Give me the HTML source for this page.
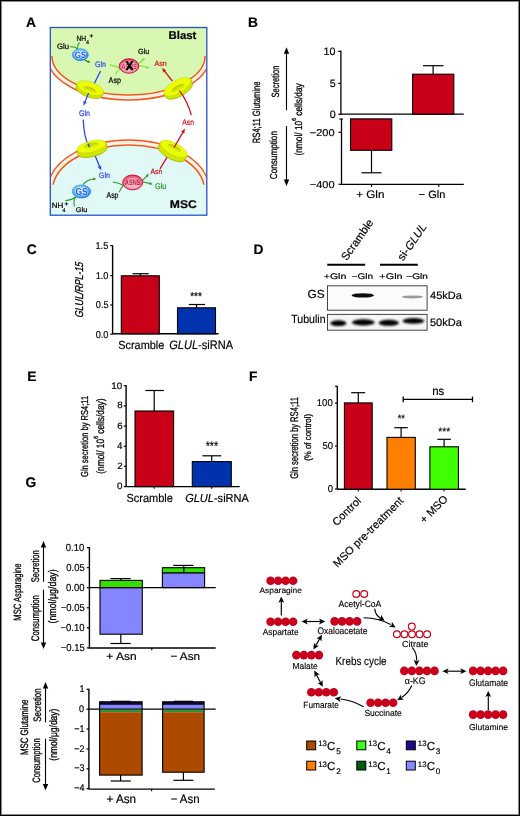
<!DOCTYPE html>
<html><head><meta charset="utf-8"><style>
html,body{margin:0;padding:0;background:#fff;}
body{width:520px;height:816px;overflow:hidden;}
svg{display:block;will-change:transform;font-family:"Liberation Sans", sans-serif;text-rendering:geometricPrecision;}
</style></head><body>
<svg width="520" height="816" viewBox="0 0 520 816">
<rect x="0.00" y="0.00" width="520.00" height="816.00" fill="#fff" />
<rect x="0.50" y="0.50" width="519.00" height="815.00" fill="none" stroke="#000" stroke-width="1" />
<rect x="1.50" y="1.50" width="517.00" height="813.00" fill="none" stroke="#888" stroke-width="1" />
<text x="26.08" y="26.60" font-size="13.800" font-weight="bold" stroke="#000" stroke-width="0.18">A</text>
<text x="247.99" y="26.60" font-size="13.800" font-weight="bold" stroke="#000" stroke-width="0.18">B</text>
<text x="26.72" y="253.80" font-size="13.800" font-weight="bold" stroke="#000" stroke-width="0.18">C</text>
<text x="253.39" y="253.80" font-size="13.800" font-weight="bold" stroke="#000" stroke-width="0.18">D</text>
<text x="27.34" y="380.65" font-size="13.800" font-weight="bold" stroke="#000" stroke-width="0.18">E</text>
<text x="248.89" y="380.65" font-size="13.800" font-weight="bold" stroke="#000" stroke-width="0.18">F</text>
<text x="25.62" y="487.40" font-size="13.800" font-weight="bold" stroke="#000" stroke-width="0.18">G</text>
<defs>
<clipPath id="cpA"><rect x="50.9" y="28.1" width="155.3" height="186.5"/></clipPath>
<linearGradient id="gHole" x1="0" y1="0" x2="0" y2="1"><stop offset="0" stop-color="#b2c600"/><stop offset="0.5" stop-color="#cfe200"/><stop offset="1" stop-color="#e8fa02"/></linearGradient>
<radialGradient id="gTor" cx="0.5" cy="0.5" r="0.55">
<stop offset="0" stop-color="#e8f800"/><stop offset="0.7" stop-color="#eefe10"/><stop offset="1" stop-color="#e2f400"/></radialGradient>
<radialGradient id="gGS" cx="0.45" cy="0.42" r="0.6">
<stop offset="0" stop-color="#d8f8ff"/><stop offset="0.45" stop-color="#8ad8fa"/><stop offset="0.8" stop-color="#3c9cf0"/><stop offset="1" stop-color="#1e70e0"/></radialGradient>
<radialGradient id="gAS" cx="0.5" cy="0.6" r="0.62">
<stop offset="0" stop-color="#f4c8d8"/><stop offset="0.55" stop-color="#eca2ba"/><stop offset="0.82" stop-color="#e0587a"/><stop offset="1" stop-color="#d81234"/></radialGradient>
</defs>
<g clip-path="url(#cpA)">
<rect x="48.00" y="25.00" width="162.00" height="32.00" fill="#d8f7b2" />
<ellipse cx="128.5" cy="56" rx="79.5" ry="42" fill="#d8f7b2"/>
<path d="M49.5,56 A79,41.5 0 0 0 207.5,56" stroke="#f25a18" stroke-width="6.4" fill="none" stroke-linecap="butt"/>
<path d="M49.5,56 A79,41.5 0 0 0 207.5,56" stroke="#fdf1ec" stroke-width="3.4" fill="none" stroke-linecap="butt"/>
<rect x="48.00" y="190.50" width="162.00" height="27.00" fill="#e0f8f6" />
<ellipse cx="128.5" cy="190.5" rx="79" ry="48.5" fill="#e0f8f6"/>
<path d="M50.72,184 A78.5,48 0 0 1 206.28,184" stroke="#f25a18" stroke-width="6.4" fill="none" stroke-linecap="butt"/>
<path d="M50.72,184 A78.5,48 0 0 1 206.28,184" stroke="#fdf1ec" stroke-width="3.4" fill="none" stroke-linecap="butt"/>
</g>
<rect x="50.30" y="27.50" width="156.50" height="187.70" fill="none" stroke="#2452c8" stroke-width="1.3" />
<text x="168.49" y="38.75" font-size="11.166" font-weight="bold" textLength="27.87" lengthAdjust="spacingAndGlyphs" stroke="#000" stroke-width="0.18">Blast</text>
<text x="169.84" y="208.45" font-size="11.236" font-weight="bold" textLength="26.99" lengthAdjust="spacingAndGlyphs" stroke="#000" stroke-width="0.18">MSC</text>
<line x1="100.5" y1="71.0" x2="93.5" y2="85.3" stroke="#2c48f2" stroke-width="1.3" />
<line x1="167.5" y1="156.3" x2="160.0" y2="168.8" stroke="#d0141e" stroke-width="1.3" />
<path d="M83.3,119.6 Q83.5,136 89.2,147.5" stroke="#2c48f2" stroke-width="1.3" fill="none" />
<line x1="91.60" y1="147.00" x2="100.01" y2="167.68" stroke="#2c48f2" stroke-width="1.3"/>
<polygon points="101.20,170.60 97.84,167.11 101.17,165.75" fill="#2c48f2"/>
<g transform="translate(89.8 89.6) rotate(20)"><path d="M-14.0,-1.6 L-14.0,1.6 A14.0,6.0 0 0 0 14.0,1.6 L14.0,-1.6 Z" fill="#d0e600" stroke="#92ac00" stroke-width="0.6"/><ellipse cx="0" cy="-1.6" rx="14.0" ry="6.0" fill="#ebfd06" stroke="#b4ca00" stroke-width="0.4"/><ellipse cx="0.0" cy="0.20" rx="7.00" ry="2.64" fill="url(#gHole)"/></g>
<g transform="translate(178.2 88.4) rotate(-30)"><path d="M-15.2,-1.8 L-15.2,1.8 A15.2,6.4 0 0 0 15.2,1.8 L15.2,-1.8 Z" fill="#d0e600" stroke="#92ac00" stroke-width="0.6"/><ellipse cx="0" cy="-1.8" rx="15.2" ry="6.4" fill="#ebfd06" stroke="#b4ca00" stroke-width="0.4"/><ellipse cx="0.0" cy="-0.20" rx="7.60" ry="2.82" fill="url(#gHole)"/></g>
<g transform="translate(92.0 148.8) rotate(-14)"><path d="M-15.0,-2.3 L-15.0,2.3 A15.0,5.6 0 0 0 15.0,2.3 L15.0,-2.3 Z" fill="#d0e600" stroke="#92ac00" stroke-width="0.6"/><ellipse cx="0" cy="-2.3" rx="15.0" ry="5.6" fill="#ebfd06" stroke="#b4ca00" stroke-width="0.4"/><ellipse cx="0.0" cy="-3.42" rx="7.50" ry="2.46" fill="url(#gHole)"/></g>
<g transform="translate(172.7 151.0) rotate(28)"><path d="M-15.0,-2.3 L-15.0,2.3 A15.0,6.0 0 0 0 15.0,2.3 L15.0,-2.3 Z" fill="#d0e600" stroke="#92ac00" stroke-width="0.6"/><ellipse cx="0" cy="-2.3" rx="15.0" ry="6.0" fill="#ebfd06" stroke="#b4ca00" stroke-width="0.4"/><ellipse cx="0.0" cy="-3.50" rx="7.50" ry="2.64" fill="url(#gHole)"/></g>
<line x1="88.60" y1="93.00" x2="84.59" y2="102.88" stroke="#2c48f2" stroke-width="1.3"/>
<polygon points="83.40,105.80 83.43,100.95 86.76,102.31" fill="#2c48f2"/>
<path d="M179.4,90.6 Q187.5,101 191.3,115.2" stroke="#d0141e" stroke-width="1.3" fill="none" />
<path d="M88.0,143.5 Q88.6,145.5 89.6,147.2" stroke="#2c48f2" stroke-width="1.3" fill="none" />
<line x1="172.30" y1="81.00" x2="163.94" y2="70.28" stroke="#d0141e" stroke-width="1.3"/>
<polygon points="162.00,67.80 166.19,70.24 163.35,72.46" fill="#d0141e"/>
<line x1="174.00" y1="147.60" x2="183.42" y2="131.33" stroke="#d0141e" stroke-width="1.3"/>
<polygon points="185.00,128.60 184.30,133.40 181.19,131.59" fill="#d0141e"/>
<path d="M69.8,46.8 Q75.5,46.3 77.6,49.2" stroke="#2a9a2a" stroke-width="1.1" fill="none" />
<path d="M79.4,42.4 Q77.0,45.5 77.6,49.2" stroke="#2a9a2a" stroke-width="1.1" fill="none" />
<path d="M84.5,59.5 Q86.5,61.5 88.8,61.9" stroke="#2a9a2a" stroke-width="1.1" fill="none" />
<polygon points="90.60,62.20 87.35,63.02 87.99,60.09" fill="#2a9a2a"/>
<ellipse cx="80.3" cy="54.7" rx="8" ry="6" fill="url(#gGS)" stroke="#2a7ee8" stroke-width="0.6"/>
<text x="74.65" y="57.90" font-size="9.322" font-weight="bold" fill="#2a56f0" textLength="11.46" lengthAdjust="spacingAndGlyphs" stroke="#ffffff" stroke-width="0.7" paint-order="stroke">GS</text>
<path d="M83.0,184.6 Q87.5,179.3 94.0,179.0" stroke="#2a9a2a" stroke-width="1.1" fill="none" />
<polygon points="96.30,178.90 93.37,180.54 93.23,177.54" fill="#2a9a2a"/>
<path d="M65.4,200.6 Q72,200 75.6,197.0" stroke="#2a9a2a" stroke-width="1.1" fill="none" />
<path d="M74.6,206.6 Q72.8,201 75.6,197.0" stroke="#2a9a2a" stroke-width="1.1" fill="none" />
<ellipse cx="81.5" cy="191.5" rx="9.2" ry="6.6" fill="url(#gGS)" stroke="#2a7ee8" stroke-width="0.6"/>
<text x="75.43" y="194.89" font-size="10.157" font-weight="bold" fill="#2a56f0" textLength="12.29" lengthAdjust="spacingAndGlyphs" stroke="#ffffff" stroke-width="0.7" paint-order="stroke">GS</text>
<path d="M109.7,64.9 Q116,66 120.5,68.6" stroke="#7ee040" stroke-width="1.1" fill="none" />
<path d="M115.4,74.4 Q117.5,70.5 120.5,68.6" stroke="#7ee040" stroke-width="1.1" fill="none" />
<line x1="138.5" y1="64.0" x2="143.2" y2="59.6" stroke="#7ee040" stroke-width="1.1" />
<polygon points="145.00,58.00 143.75,61.11 141.76,58.87" fill="#7ee040"/>
<line x1="138.8" y1="65.5" x2="147.2" y2="67.3" stroke="#7ee040" stroke-width="1.1" />
<polygon points="149.60,67.90 146.35,68.74 146.98,65.80" fill="#7ee040"/>
<ellipse cx="129.0" cy="66.0" rx="9.8" ry="7.2" fill="url(#gAS)" stroke="#d41030" stroke-width="1.0"/>
<text x="121.41" y="68.53" font-size="7.374" font-weight="bold" fill="#d42848" textLength="15.23" lengthAdjust="spacingAndGlyphs" stroke="#f8e0e8" stroke-width="0.2" paint-order="stroke">ASNS</text>
<text x="125.70" y="70.45" font-size="12.089" font-weight="bold" textLength="7.35" lengthAdjust="spacingAndGlyphs" stroke="#000" stroke-width="0.7">X</text>
<path d="M112.8,182.0 Q119,183 123.6,185.4" stroke="#2a9a2a" stroke-width="1.1" fill="none" />
<path d="M119.2,192.2 Q121,188 123.6,185.4" stroke="#2a9a2a" stroke-width="1.1" fill="none" />
<line x1="142.2" y1="180.6" x2="147.0" y2="175.9" stroke="#2a9a2a" stroke-width="1.1" />
<polygon points="148.90,174.00 147.84,177.18 145.72,175.06" fill="#2a9a2a"/>
<line x1="142.5" y1="181.8" x2="150.2" y2="183.6" stroke="#2a9a2a" stroke-width="1.1" />
<polygon points="152.70,184.30 149.43,185.03 150.15,182.12" fill="#2a9a2a"/>
<ellipse cx="132.7" cy="182.4" rx="10" ry="7.4" fill="url(#gAS)" stroke="#d41030" stroke-width="1.0"/>
<text x="124.81" y="184.93" font-size="7.930" font-weight="bold" fill="#c8102c" textLength="15.84" lengthAdjust="spacingAndGlyphs" stroke="#f8e0e8" stroke-width="0.25" paint-order="stroke">ASNS</text>
<text x="76.38" y="40.75" font-size="7.538" textLength="9.67" lengthAdjust="spacingAndGlyphs" stroke="#000" stroke-width="0.22">NH</text>
<text x="85.90" y="43.60" font-size="5.400" stroke="#000" stroke-width="0.18">4</text>
<text x="89.60" y="38.30" font-size="6.400" font-weight="bold" stroke="#000" stroke-width="0.18">+</text>
<text x="57.04" y="48.95" font-size="7.898" textLength="12.10" lengthAdjust="spacingAndGlyphs" stroke="#000" stroke-width="0.22">Glu</text>
<text x="95.07" y="66.75" font-size="8.034" fill="#2c48f2" textLength="10.82" lengthAdjust="spacingAndGlyphs" stroke="#2c48f2" stroke-width="0.22">Gln</text>
<text x="137.96" y="53.75" font-size="7.489" textLength="11.35" lengthAdjust="spacingAndGlyphs" stroke="#000" stroke-width="0.22">Glu</text>
<text x="154.60" y="65.65" font-size="7.680" fill="#d0141e" textLength="12.09" lengthAdjust="spacingAndGlyphs" stroke="#d0141e" stroke-width="0.22">Asn</text>
<text x="108.60" y="82.55" font-size="8.249" textLength="12.39" lengthAdjust="spacingAndGlyphs" stroke="#000" stroke-width="0.22">Asp</text>
<text x="78.97" y="115.55" font-size="8.170" fill="#2c48f2" textLength="10.92" lengthAdjust="spacingAndGlyphs" stroke="#2c48f2" stroke-width="0.22">Gln</text>
<text x="182.20" y="125.25" font-size="8.178" fill="#d0141e" textLength="11.89" lengthAdjust="spacingAndGlyphs" stroke="#d0141e" stroke-width="0.22">Asn</text>
<text x="98.86" y="178.25" font-size="7.898" fill="#2c48f2" textLength="11.14" lengthAdjust="spacingAndGlyphs" stroke="#2c48f2" stroke-width="0.22">Gln</text>
<text x="150.50" y="173.85" font-size="7.680" fill="#d0141e" textLength="11.89" lengthAdjust="spacingAndGlyphs" stroke="#d0141e" stroke-width="0.22">Asn</text>
<text x="155.06" y="188.85" font-size="8.306" fill="#2a9a2a" textLength="11.35" lengthAdjust="spacingAndGlyphs" stroke="#2a9a2a" stroke-width="0.22">Glu</text>
<text x="106.50" y="197.55" font-size="8.391" textLength="11.98" lengthAdjust="spacingAndGlyphs" stroke="#000" stroke-width="0.22">Asp</text>
<text x="51.67" y="207.95" font-size="7.538" textLength="11.58" lengthAdjust="spacingAndGlyphs" stroke="#000" stroke-width="0.22">NH</text>
<text x="62.50" y="211.70" font-size="5.400" stroke="#000" stroke-width="0.18">4</text>
<text x="64.60" y="205.90" font-size="6.400" font-weight="bold" stroke="#000" stroke-width="0.18">+</text>
<text x="75.85" y="212.45" font-size="6.809" textLength="11.46" lengthAdjust="spacingAndGlyphs" stroke="#000" stroke-width="0.22">Glu</text>
<line x1="286.5" y1="53.2" x2="286.5" y2="110.2" stroke="#000" stroke-width="1.1" />
<polygon points="286.5,47.2 283.8,53.7 289.2,53.7" fill="#000"/>
<line x1="286.5" y1="126.1" x2="286.5" y2="180.0" stroke="#000" stroke-width="1.1" />
<polygon points="286.5,186.0 283.8,179.5 289.2,179.5" fill="#000"/>
<text transform="translate(260.05 143.20) rotate(-90)" font-size="10.485" textLength="61.70" lengthAdjust="spacingAndGlyphs" stroke="#000" stroke-width="0.3">RS4;11 Glutamine</text>
<text transform="translate(278.85 97.43) rotate(-90)" font-size="10.485" textLength="31.76" lengthAdjust="spacingAndGlyphs" stroke="#000" stroke-width="0.3">Secretion</text>
<text transform="translate(276.75 179.28) rotate(-90)" font-size="10.077" textLength="48.24" lengthAdjust="spacingAndGlyphs" stroke="#000" stroke-width="0.3">Consumption</text>
<g transform="translate(302.15 155.59) rotate(-90)" font-size="10.213" stroke="#000" stroke-width="0.3" style="white-space:pre"><text x="0" y="0" textLength="34.85" lengthAdjust="spacingAndGlyphs">(nmol/ 10</text><text x="34.85" y="-5.92" font-size="5.923" textLength="2.70" lengthAdjust="spacingAndGlyphs">6</text><text x="37.54" y="0" textLength="34.85" lengthAdjust="spacingAndGlyphs"> cells/day</text></g>
<line x1="340.9" y1="50.6" x2="340.9" y2="114.8" stroke="#000" stroke-width="1.3" />
<line x1="338.2" y1="51.4" x2="340.9" y2="51.4" stroke="#000" stroke-width="1.2" />
<line x1="338.2" y1="83.4" x2="340.9" y2="83.4" stroke="#000" stroke-width="1.2" />
<line x1="338.2" y1="114.2" x2="340.9" y2="114.2" stroke="#000" stroke-width="1.2" />
<line x1="340.9" y1="114.2" x2="463.8" y2="114.2" stroke="#000" stroke-width="1.3" />
<line x1="341.5" y1="118.9" x2="341.5" y2="184.9" stroke="#000" stroke-width="1.3" />
<line x1="339.4" y1="119.0" x2="343.0" y2="119.0" stroke="#000" stroke-width="1.2" />
<line x1="338.5" y1="132.3" x2="341.5" y2="132.3" stroke="#000" stroke-width="1.2" />
<line x1="338.5" y1="184.3" x2="341.5" y2="184.3" stroke="#000" stroke-width="1.2" />
<line x1="341.5" y1="184.3" x2="463.8" y2="184.3" stroke="#000" stroke-width="1.3" />
<line x1="371.6" y1="184.3" x2="371.6" y2="186.9" stroke="#000" stroke-width="1.1" />
<line x1="438.8" y1="184.3" x2="438.8" y2="186.9" stroke="#000" stroke-width="1.1" />
<text x="323.43" y="54.98" font-size="10.713" textLength="11.94" lengthAdjust="spacingAndGlyphs" stroke="#000" stroke-width="0.18">10</text>
<text x="329.87" y="86.80" font-size="10.713" textLength="5.97" lengthAdjust="spacingAndGlyphs" stroke="#000" stroke-width="0.18">5</text>
<text x="329.70" y="117.60" font-size="10.713" textLength="5.97" lengthAdjust="spacingAndGlyphs" stroke="#000" stroke-width="0.18">0</text>
<text x="309.78" y="135.90" font-size="9.878" textLength="24.79" lengthAdjust="spacingAndGlyphs" stroke="#000" stroke-width="0.18">−200</text>
<text x="309.78" y="187.79" font-size="10.017" textLength="24.79" lengthAdjust="spacingAndGlyphs" stroke="#000" stroke-width="0.18">−400</text>
<rect x="350.50" y="118.90" width="41.30" height="31.40" fill="#c80018" stroke="#000" stroke-width="1.1" />
<line x1="371.5" y1="150.3" x2="371.5" y2="172.8" stroke="#000" stroke-width="1.2" />
<line x1="361.5" y1="172.8" x2="381.5" y2="172.8" stroke="#000" stroke-width="1.2" />
<rect x="412.60" y="74.20" width="41.20" height="40.00" fill="#c80018" stroke="#000" stroke-width="1.1" />
<line x1="433.1" y1="74.2" x2="433.1" y2="65.7" stroke="#000" stroke-width="1.2" />
<line x1="423.0" y1="65.7" x2="443.5" y2="65.7" stroke="#000" stroke-width="1.2" />
<text x="356.15" y="197.95" font-size="10.894" textLength="28.31" lengthAdjust="spacingAndGlyphs" stroke="#000" stroke-width="0.18">+ Gln</text>
<text x="418.58" y="198.25" font-size="10.621" textLength="26.84" lengthAdjust="spacingAndGlyphs" stroke="#000" stroke-width="0.18">− Gln</text>
<text transform="translate(83.25 318.01) rotate(-90) skewX(-12)" font-size="11.438" textLength="55.56" lengthAdjust="spacingAndGlyphs" stroke="#000" stroke-width="0.3">GLUL/RPL-15</text>
<line x1="112.6" y1="245.2" x2="112.6" y2="334.2" stroke="#000" stroke-width="1.4" />
<text x="95.53" y="249.09" font-size="10.017" textLength="12.74" lengthAdjust="spacingAndGlyphs" stroke="#000" stroke-width="0.18">1.5</text>
<text x="95.68" y="279.00" font-size="10.017" textLength="12.74" lengthAdjust="spacingAndGlyphs" stroke="#000" stroke-width="0.18">1.0</text>
<text x="95.83" y="308.40" font-size="10.017" textLength="12.74" lengthAdjust="spacingAndGlyphs" stroke="#000" stroke-width="0.18">0.5</text>
<text x="95.68" y="337.60" font-size="10.017" textLength="12.74" lengthAdjust="spacingAndGlyphs" stroke="#000" stroke-width="0.18">0.0</text>
<line x1="110.3" y1="245.6" x2="112.6" y2="245.6" stroke="#000" stroke-width="1.2" />
<line x1="110.3" y1="275.6" x2="112.6" y2="275.6" stroke="#000" stroke-width="1.2" />
<line x1="110.3" y1="305.0" x2="112.6" y2="305.0" stroke="#000" stroke-width="1.2" />
<line x1="110.3" y1="334.2" x2="112.6" y2="334.2" stroke="#000" stroke-width="1.2" />
<line x1="112.6" y1="333.8" x2="218.6" y2="333.8" stroke="#000" stroke-width="1.4" />
<rect x="121.30" y="275.80" width="38.00" height="58.00" fill="#c80018" stroke="#000" stroke-width="1.1" />
<line x1="140.3" y1="275.8" x2="140.3" y2="273.7" stroke="#000" stroke-width="1.2" />
<line x1="132.5" y1="273.7" x2="148.7" y2="273.7" stroke="#000" stroke-width="1.2" />
<rect x="177.50" y="307.80" width="38.00" height="26.00" fill="#0032ae" stroke="#000" stroke-width="1.1" />
<line x1="196.5" y1="307.8" x2="196.5" y2="304.5" stroke="#000" stroke-width="1.2" />
<line x1="188.8" y1="304.5" x2="205.0" y2="304.5" stroke="#000" stroke-width="1.2" />
<text x="190.14" y="300.22" font-size="11.333" textLength="11.70" lengthAdjust="spacingAndGlyphs" stroke="#000" stroke-width="0.18">***</text>
<text x="118.26" y="348.55" font-size="11.711" textLength="46.08" lengthAdjust="spacingAndGlyphs" stroke="#000" stroke-width="0.18">Scramble</text>
<text x="169.28" y="348.55" font-size="12.231" stroke="#000" stroke-width="0.18"><tspan font-style="italic" textLength="28.82" lengthAdjust="spacingAndGlyphs">GLUL</tspan><tspan textLength="34.94" lengthAdjust="spacingAndGlyphs">-siRNA</tspan></text>
<text transform="translate(346.80 261.30) rotate(-55)" font-size="11.200" stroke="#000" stroke-width="0.18">Scramble</text>
<g transform="translate(403.0 261.5) rotate(-55)" font-size="11.4" stroke="#000" stroke-width="0.18"><text x="0" y="0">si-</text><text transform="translate(12.0 0) skewX(-12)" x="0" y="0">GLUL</text></g>
<line x1="327.3" y1="264.8" x2="365.2" y2="264.8" stroke="#000" stroke-width="2.0" />
<line x1="380.0" y1="264.8" x2="417.8" y2="264.8" stroke="#000" stroke-width="2.0" />
<text x="323.81" y="278.65" font-size="8.170" textLength="22.48" lengthAdjust="spacingAndGlyphs" stroke="#000" stroke-width="0.18">+Gln</text>
<text x="351.53" y="278.65" font-size="8.170" textLength="21.64" lengthAdjust="spacingAndGlyphs" stroke="#000" stroke-width="0.18">−Gln</text>
<text x="379.39" y="278.65" font-size="8.170" textLength="23.22" lengthAdjust="spacingAndGlyphs" stroke="#000" stroke-width="0.18">+Gln</text>
<text x="406.33" y="278.65" font-size="8.170" textLength="21.64" lengthAdjust="spacingAndGlyphs" stroke="#000" stroke-width="0.18">−Gln</text>
<defs><filter id="blur1" x="-20%" y="-50%" width="140%" height="200%"><feGaussianBlur stdDeviation="0.7"/></filter><filter id="blur2" x="-20%" y="-50%" width="140%" height="200%"><feGaussianBlur stdDeviation="0.9"/></filter></defs>
<rect x="327.50" y="285.80" width="99.60" height="24.40" fill="#fbfbfb" stroke="#444" stroke-width="1.0" />
<rect x="327.50" y="314.40" width="99.60" height="15.80" fill="#f6f6f6" stroke="#444" stroke-width="1.0" />
<ellipse cx="362.8" cy="295.4" rx="11.2" ry="2.2" fill="#111" filter="url(#blur1)"/>
<ellipse cx="412.5" cy="296.9" rx="10.5" ry="1.5" fill="#9a9a9a" filter="url(#blur1)"/>
<ellipse cx="338.4" cy="323.2" rx="8.2" ry="2.9" fill="#050505" filter="url(#blur2)"/>
<ellipse cx="363.3" cy="322.4" rx="11.4" ry="3.1" fill="#050505" filter="url(#blur2)"/>
<ellipse cx="388.8" cy="322.8" rx="10.2" ry="3.0" fill="#050505" filter="url(#blur2)"/>
<ellipse cx="413.4" cy="320.9" rx="11.0" ry="2.8" fill="#050505" filter="url(#blur2)"/>
<text x="307.64" y="297.95" font-size="11.662" textLength="17.16" lengthAdjust="spacingAndGlyphs" stroke="#000" stroke-width="0.18">GS</text>
<text x="291.34" y="322.95" font-size="11.711" textLength="34.16" lengthAdjust="spacingAndGlyphs" stroke="#000" stroke-width="0.18">Tubulin</text>
<text x="430.13" y="299.45" font-size="10.621" textLength="31.80" lengthAdjust="spacingAndGlyphs" stroke="#000" stroke-width="0.18">45kDa</text>
<text x="429.95" y="326.05" font-size="10.621" textLength="31.98" lengthAdjust="spacingAndGlyphs" stroke="#000" stroke-width="0.18">50kDa</text>
<text transform="translate(87.95 476.95) rotate(-90)" font-size="10.077" textLength="81.06" lengthAdjust="spacingAndGlyphs" stroke="#000" stroke-width="0.3">Gln secretion by RS4;11</text>
<g transform="translate(103.85 473.69) rotate(-90)" font-size="10.757" stroke="#000" stroke-width="0.3" style="white-space:pre"><text x="0" y="0" textLength="34.87" lengthAdjust="spacingAndGlyphs">(nmol/ 10</text><text x="34.87" y="-6.24" font-size="6.239" textLength="2.70" lengthAdjust="spacingAndGlyphs">6</text><text x="37.57" y="0" textLength="37.66" lengthAdjust="spacingAndGlyphs"> cells/day)</text></g>
<line x1="126.1" y1="385.2" x2="126.1" y2="486.6" stroke="#000" stroke-width="1.4" />
<text x="111.28" y="388.50" font-size="9.322" textLength="10.96" lengthAdjust="spacingAndGlyphs" stroke="#000" stroke-width="0.18">10</text>
<line x1="123.8" y1="486.6" x2="126.1" y2="486.6" stroke="#000" stroke-width="1.2" />
<text x="117.06" y="489.10" font-size="9.322" textLength="5.48" lengthAdjust="spacingAndGlyphs" stroke="#000" stroke-width="0.18">0</text>
<line x1="123.8" y1="466.42" x2="126.1" y2="466.42" stroke="#000" stroke-width="1.2" />
<text x="117.22" y="468.92" font-size="9.322" textLength="5.48" lengthAdjust="spacingAndGlyphs" stroke="#000" stroke-width="0.18">2</text>
<line x1="123.8" y1="446.24" x2="126.1" y2="446.24" stroke="#000" stroke-width="1.2" />
<text x="117.06" y="448.74" font-size="9.322" textLength="5.48" lengthAdjust="spacingAndGlyphs" stroke="#000" stroke-width="0.18">4</text>
<line x1="123.8" y1="426.06" x2="126.1" y2="426.06" stroke="#000" stroke-width="1.2" />
<text x="117.22" y="428.56" font-size="9.322" textLength="5.48" lengthAdjust="spacingAndGlyphs" stroke="#000" stroke-width="0.18">6</text>
<line x1="123.8" y1="405.88" x2="126.1" y2="405.88" stroke="#000" stroke-width="1.2" />
<text x="117.22" y="408.38" font-size="9.322" textLength="5.48" lengthAdjust="spacingAndGlyphs" stroke="#000" stroke-width="0.18">8</text>
<line x1="123.8" y1="385.70000000000005" x2="126.1" y2="385.70000000000005" stroke="#000" stroke-width="1.2" />
<line x1="126.1" y1="486.6" x2="239.7" y2="486.6" stroke="#000" stroke-width="1.4" />
<line x1="154.2" y1="486.6" x2="154.2" y2="488.8" stroke="#000" stroke-width="1.1" />
<line x1="211.7" y1="486.6" x2="211.7" y2="488.8" stroke="#000" stroke-width="1.1" />
<rect x="135.00" y="411.00" width="38.60" height="75.60" fill="#c80018" stroke="#000" stroke-width="1.1" />
<line x1="154.2" y1="411.0" x2="154.2" y2="390.5" stroke="#000" stroke-width="1.2" />
<line x1="145.4" y1="390.5" x2="163.9" y2="390.5" stroke="#000" stroke-width="1.2" />
<rect x="192.30" y="461.60" width="39.00" height="25.00" fill="#0032ae" stroke="#000" stroke-width="1.1" />
<line x1="211.7" y1="461.6" x2="211.7" y2="455.8" stroke="#000" stroke-width="1.2" />
<line x1="202.4" y1="455.8" x2="221.2" y2="455.8" stroke="#000" stroke-width="1.2" />
<text x="205.63" y="450.38" font-size="12.267" textLength="12.42" lengthAdjust="spacingAndGlyphs" stroke="#000" stroke-width="0.18">***</text>
<text x="126.46" y="502.25" font-size="11.711" textLength="46.39" lengthAdjust="spacingAndGlyphs" stroke="#000" stroke-width="0.18">Scramble</text>
<text x="185.18" y="501.75" font-size="11.662" stroke="#000" stroke-width="0.18"><tspan font-style="italic" textLength="28.78" lengthAdjust="spacingAndGlyphs">GLUL</tspan><tspan textLength="34.88" lengthAdjust="spacingAndGlyphs">-siRNA</tspan></text>
<text transform="translate(298.05 478.86) rotate(-90)" font-size="11.030" textLength="81.76" lengthAdjust="spacingAndGlyphs" stroke="#000" stroke-width="0.3">Gln secretion by RS4;11</text>
<text transform="translate(311.45 460.87) rotate(-90)" font-size="9.396" textLength="46.98" lengthAdjust="spacingAndGlyphs" stroke="#000" stroke-width="0.3">(% of control)</text>
<line x1="337.3" y1="386.0" x2="337.3" y2="489.2" stroke="#000" stroke-width="1.4" />
<text x="316.80" y="406.20" font-size="9.878" textLength="15.93" lengthAdjust="spacingAndGlyphs" stroke="#000" stroke-width="0.18">100</text>
<text x="322.41" y="449.10" font-size="9.878" textLength="10.62" lengthAdjust="spacingAndGlyphs" stroke="#000" stroke-width="0.18">50</text>
<text x="327.73" y="492.30" font-size="9.878" textLength="5.31" lengthAdjust="spacingAndGlyphs" stroke="#000" stroke-width="0.18">0</text>
<line x1="335.0" y1="403.1" x2="337.3" y2="403.1" stroke="#000" stroke-width="1.2" />
<line x1="335.0" y1="446.05" x2="337.3" y2="446.05" stroke="#000" stroke-width="1.2" />
<line x1="335.0" y1="489.0" x2="337.3" y2="489.0" stroke="#000" stroke-width="1.2" />
<line x1="335.0" y1="386.2" x2="337.3" y2="386.2" stroke="#000" stroke-width="1.2" />
<line x1="337.3" y1="489.2" x2="465.7" y2="489.2" stroke="#000" stroke-width="1.4" />
<line x1="358.3" y1="489.2" x2="358.3" y2="491.4" stroke="#000" stroke-width="1.1" />
<line x1="401.1" y1="489.2" x2="401.1" y2="491.4" stroke="#000" stroke-width="1.1" />
<line x1="444.1" y1="489.2" x2="444.1" y2="491.4" stroke="#000" stroke-width="1.1" />
<rect x="344.40" y="402.90" width="27.80" height="86.30" fill="#c80018" stroke="#000" stroke-width="1.1" />
<line x1="358.3" y1="402.9" x2="358.3" y2="392.7" stroke="#000" stroke-width="1.2" />
<line x1="351.2" y1="392.7" x2="365.2" y2="392.7" stroke="#000" stroke-width="1.2" />
<rect x="387.00" y="437.40" width="28.30" height="51.80" fill="#ff7f00" stroke="#000" stroke-width="1.1" />
<line x1="401.1" y1="437.4" x2="401.1" y2="427.7" stroke="#000" stroke-width="1.2" />
<line x1="394.3" y1="427.7" x2="407.8" y2="427.7" stroke="#000" stroke-width="1.2" />
<rect x="429.90" y="446.80" width="28.50" height="42.40" fill="#40ff00" stroke="#000" stroke-width="1.1" />
<line x1="444.1" y1="446.8" x2="444.1" y2="439.3" stroke="#000" stroke-width="1.2" />
<line x1="437.4" y1="439.3" x2="450.9" y2="439.3" stroke="#000" stroke-width="1.2" />
<line x1="403.2" y1="399.4" x2="472.5" y2="399.4" stroke="#000" stroke-width="1.3" />
<line x1="403.2" y1="396.6" x2="403.2" y2="402.2" stroke="#000" stroke-width="1.3" />
<line x1="472.5" y1="396.6" x2="472.5" y2="402.2" stroke="#000" stroke-width="1.3" />
<text x="432.19" y="394.86" font-size="11.911" textLength="12.07" lengthAdjust="spacingAndGlyphs" stroke="#000" stroke-width="0.18">ns</text>
<text x="397.66" y="422.25" font-size="10.667" textLength="7.17" lengthAdjust="spacingAndGlyphs" stroke="#000" stroke-width="0.18">**</text>
<text x="438.34" y="434.95" font-size="10.667" textLength="11.90" lengthAdjust="spacingAndGlyphs" stroke="#000" stroke-width="0.18">***</text>
<text transform="translate(361.80 501.40) rotate(-45)" font-size="11.000" text-anchor="end" stroke="#000" stroke-width="0.18">Control</text>
<text transform="translate(404.00 501.40) rotate(-45)" font-size="11.000" text-anchor="end" stroke="#000" stroke-width="0.18">MSO pre-treatment</text>
<text transform="translate(448.60 499.60) rotate(-45)" font-size="11.000" text-anchor="end" stroke="#000" stroke-width="0.18">+ MSO</text>
<text transform="translate(21.35 620.69) rotate(-90)" font-size="10.485" textLength="57.30" lengthAdjust="spacingAndGlyphs" stroke="#000" stroke-width="0.3">MSC Asparagine</text>
<text transform="translate(39.45 582.34) rotate(-90)" font-size="11.030" textLength="31.96" lengthAdjust="spacingAndGlyphs" stroke="#000" stroke-width="0.3">Secretion</text>
<text transform="translate(39.45 641.27) rotate(-90)" font-size="11.030" textLength="46.21" lengthAdjust="spacingAndGlyphs" stroke="#000" stroke-width="0.3">Consumption</text>
<text transform="translate(55.65 623.51) rotate(-90)" font-size="11.030" textLength="54.17" lengthAdjust="spacingAndGlyphs" stroke="#000" stroke-width="0.3">(nmol/μg/day)</text>
<line x1="43.5" y1="547.1" x2="43.5" y2="581.8" stroke="#000" stroke-width="1.1" />
<polygon points="43.5,541.1 40.8,547.6 46.2,547.6" fill="#000"/>
<line x1="43.5" y1="589.7" x2="43.5" y2="643.1" stroke="#000" stroke-width="1.1" />
<polygon points="43.5,649.1 40.8,642.6 46.2,642.6" fill="#000"/>
<line x1="89.4" y1="547.0" x2="89.4" y2="648.0" stroke="#000" stroke-width="1.4" />
<text x="65.80" y="550.89" font-size="10.157" textLength="18.43" lengthAdjust="spacingAndGlyphs" stroke="#000" stroke-width="0.18">0.10</text>
<line x1="86.8" y1="547.6" x2="89.4" y2="547.6" stroke="#000" stroke-width="1.2" />
<line x1="86.8" y1="567.66" x2="89.4" y2="567.66" stroke="#000" stroke-width="1.2" />
<text x="66.25" y="570.56" font-size="10.157" textLength="18.43" lengthAdjust="spacingAndGlyphs" stroke="#000" stroke-width="0.18">0.05</text>
<line x1="86.8" y1="587.72" x2="89.4" y2="587.72" stroke="#000" stroke-width="1.2" />
<text x="66.10" y="590.62" font-size="10.157" textLength="18.43" lengthAdjust="spacingAndGlyphs" stroke="#000" stroke-width="0.18">0.00</text>
<line x1="86.8" y1="607.78" x2="89.4" y2="607.78" stroke="#000" stroke-width="1.2" />
<text x="60.72" y="610.68" font-size="10.157" textLength="23.96" lengthAdjust="spacingAndGlyphs" stroke="#000" stroke-width="0.18">−0.05</text>
<line x1="86.8" y1="627.84" x2="89.4" y2="627.84" stroke="#000" stroke-width="1.2" />
<text x="60.57" y="630.74" font-size="10.157" textLength="23.96" lengthAdjust="spacingAndGlyphs" stroke="#000" stroke-width="0.18">−0.10</text>
<line x1="86.8" y1="647.9" x2="89.4" y2="647.9" stroke="#000" stroke-width="1.2" />
<text x="60.72" y="650.80" font-size="10.157" textLength="23.96" lengthAdjust="spacingAndGlyphs" stroke="#000" stroke-width="0.18">−0.15</text>
<rect x="100.00" y="580.40" width="42.30" height="7.20" fill="#33e000" stroke="#000" stroke-width="1.1" />
<rect x="100.00" y="587.60" width="42.30" height="46.60" fill="#8585ff" stroke="#000" stroke-width="1.1" />
<line x1="120.8" y1="580.4" x2="120.8" y2="578.6" stroke="#000" stroke-width="1.2" />
<line x1="110.4" y1="578.6" x2="130.7" y2="578.6" stroke="#000" stroke-width="1.2" />
<line x1="120.8" y1="634.2" x2="120.8" y2="643.5" stroke="#000" stroke-width="1.2" />
<line x1="110.4" y1="643.5" x2="130.7" y2="643.5" stroke="#000" stroke-width="1.2" />
<rect x="162.40" y="572.80" width="42.20" height="14.80" fill="#8585ff" stroke="#000" stroke-width="1.1" />
<rect x="162.40" y="567.70" width="42.20" height="5.10" fill="#33e000" stroke="#000" stroke-width="1.1" />
<line x1="183.8" y1="572.8" x2="183.8" y2="565.4" stroke="#000" stroke-width="1.2" />
<line x1="173.2" y1="565.4" x2="193.5" y2="565.4" stroke="#000" stroke-width="1.2" />
<line x1="89.4" y1="587.6" x2="215.7" y2="587.6" stroke="#000" stroke-width="1.3" />
<line x1="88.7" y1="648.0" x2="215.7" y2="648.0" stroke="#000" stroke-width="1.4" />
<line x1="151.8" y1="648.0" x2="151.8" y2="650.2" stroke="#000" stroke-width="1.1" />
<text x="106.35" y="660.45" font-size="11.093" textLength="30.20" lengthAdjust="spacingAndGlyphs" stroke="#000" stroke-width="0.18">+ Asn</text>
<text x="170.47" y="660.45" font-size="11.093" textLength="29.47" lengthAdjust="spacingAndGlyphs" stroke="#000" stroke-width="0.18">− Asn</text>
<text transform="translate(27.65 755.11) rotate(-90)" font-size="10.757" textLength="55.53" lengthAdjust="spacingAndGlyphs" stroke="#000" stroke-width="0.3">MSC Glutamine</text>
<text transform="translate(41.35 721.65) rotate(-90)" font-size="10.757" textLength="33.29" lengthAdjust="spacingAndGlyphs" stroke="#000" stroke-width="0.3">Secretion</text>
<text transform="translate(40.05 782.75) rotate(-90)" font-size="10.757" textLength="44.38" lengthAdjust="spacingAndGlyphs" stroke="#000" stroke-width="0.3">Consumption</text>
<text transform="translate(57.05 760.70) rotate(-90)" font-size="10.757" textLength="52.14" lengthAdjust="spacingAndGlyphs" stroke="#000" stroke-width="0.3">(nmol/μg/day)</text>
<line x1="45.5" y1="688.0" x2="45.5" y2="722.4" stroke="#000" stroke-width="1.1" />
<polygon points="45.5,682.0 42.8,688.5 48.2,688.5" fill="#000"/>
<line x1="45.5" y1="738.8" x2="45.5" y2="784.4" stroke="#000" stroke-width="1.1" />
<polygon points="45.5,790.4 42.8,783.9 48.2,783.9" fill="#000"/>
<line x1="88.9" y1="688.8" x2="88.9" y2="789.2" stroke="#000" stroke-width="1.4" />
<text x="79.12" y="711.90" font-size="9.739" textLength="5.01" lengthAdjust="spacingAndGlyphs" stroke="#000" stroke-width="0.18">0</text>
<line x1="86.5" y1="689.3" x2="88.9" y2="689.3" stroke="#000" stroke-width="1.2" />
<text x="79.56" y="691.90" font-size="9.739" textLength="5.01" lengthAdjust="spacingAndGlyphs" stroke="#000" stroke-width="0.18">1</text>
<line x1="86.5" y1="709.18" x2="88.9" y2="709.18" stroke="#000" stroke-width="1.2" />
<line x1="86.5" y1="729.06" x2="88.9" y2="729.06" stroke="#000" stroke-width="1.2" />
<text x="74.30" y="731.66" font-size="9.739" textLength="10.26" lengthAdjust="spacingAndGlyphs" stroke="#000" stroke-width="0.18">−1</text>
<line x1="86.5" y1="748.9399999999999" x2="88.9" y2="748.9399999999999" stroke="#000" stroke-width="1.2" />
<text x="74.30" y="751.54" font-size="9.739" textLength="10.26" lengthAdjust="spacingAndGlyphs" stroke="#000" stroke-width="0.18">−2</text>
<line x1="86.5" y1="768.8199999999999" x2="88.9" y2="768.8199999999999" stroke="#000" stroke-width="1.2" />
<text x="74.30" y="771.42" font-size="9.739" textLength="10.26" lengthAdjust="spacingAndGlyphs" stroke="#000" stroke-width="0.18">−3</text>
<line x1="86.5" y1="788.6999999999999" x2="88.9" y2="788.6999999999999" stroke="#000" stroke-width="1.2" />
<text x="74.16" y="791.30" font-size="9.739" textLength="10.26" lengthAdjust="spacingAndGlyphs" stroke="#000" stroke-width="0.18">−4</text>
<rect x="99.60" y="701.80" width="42.50" height="3.20" fill="#0d0a30" />
<rect x="99.60" y="704.80" width="42.50" height="4.00" fill="#8585ff" />
<rect x="99.60" y="709.60" width="42.50" height="1.80" fill="#17b417" />
<rect x="99.60" y="711.40" width="42.50" height="0.90" fill="#0a3a0a" />
<rect x="99.60" y="712.30" width="42.50" height="62.80" fill="#ad4a00" />
<rect x="99.60" y="701.80" width="42.50" height="73.30" fill="none" stroke="#000" stroke-width="1.1" />
<line x1="111.1" y1="701.3" x2="130.3" y2="701.3" stroke="#000" stroke-width="1.2" />
<line x1="120.6" y1="775.1" x2="120.6" y2="781.0" stroke="#000" stroke-width="1.2" />
<line x1="110.6" y1="781.0" x2="130.8" y2="781.0" stroke="#000" stroke-width="1.2" />
<rect x="162.60" y="701.80" width="41.50" height="3.20" fill="#0d0a30" />
<rect x="162.60" y="704.80" width="41.50" height="4.00" fill="#8585ff" />
<rect x="162.60" y="709.60" width="41.50" height="1.80" fill="#17b417" />
<rect x="162.60" y="711.40" width="41.50" height="0.90" fill="#0a3a0a" />
<rect x="162.60" y="712.30" width="41.50" height="59.90" fill="#ad4a00" />
<rect x="162.60" y="701.80" width="41.50" height="70.40" fill="none" stroke="#000" stroke-width="1.1" />
<line x1="173.9" y1="701.3" x2="192.9" y2="701.3" stroke="#000" stroke-width="1.2" />
<line x1="183.4" y1="772.2" x2="183.4" y2="780.3" stroke="#000" stroke-width="1.2" />
<line x1="173.4" y1="780.3" x2="193.4" y2="780.3" stroke="#000" stroke-width="1.2" />
<line x1="88.9" y1="709.1" x2="215.7" y2="709.1" stroke="#000" stroke-width="1.3" />
<line x1="88.9" y1="789.1" x2="214.8" y2="789.1" stroke="#000" stroke-width="1.4" />
<line x1="151.6" y1="789.1" x2="151.6" y2="791.3" stroke="#000" stroke-width="1.1" />
<text x="106.46" y="803.15" font-size="12.231" textLength="29.68" lengthAdjust="spacingAndGlyphs" stroke="#000" stroke-width="0.18">+ Asn</text>
<text x="170.68" y="803.15" font-size="12.231" textLength="28.85" lengthAdjust="spacingAndGlyphs" stroke="#000" stroke-width="0.18">− Asn</text>
<rect x="306.70" y="741.00" width="9.00" height="8.80" fill="#ad4a00" stroke="#000" stroke-width="1.0" />
<text x="318.20" y="746.30" font-size="7.800" stroke="#000" stroke-width="0.18">13</text>
<text x="327.10" y="749.50" font-size="11.600" stroke="#000" stroke-width="0.18">C</text>
<text x="336.20" y="753.50" font-size="8.200" stroke="#000" stroke-width="0.18">5</text>
<rect x="306.70" y="761.20" width="9.00" height="8.80" fill="#ff7f00" stroke="#000" stroke-width="1.0" />
<text x="318.20" y="766.50" font-size="7.800" stroke="#000" stroke-width="0.18">13</text>
<text x="327.10" y="769.70" font-size="11.600" stroke="#000" stroke-width="0.18">C</text>
<text x="336.20" y="773.70" font-size="8.200" stroke="#000" stroke-width="0.18">2</text>
<rect x="356.80" y="741.00" width="9.00" height="8.80" fill="#3cff14" stroke="#000" stroke-width="1.0" />
<text x="368.30" y="746.30" font-size="7.800" stroke="#000" stroke-width="0.18">13</text>
<text x="377.20" y="749.50" font-size="11.600" stroke="#000" stroke-width="0.18">C</text>
<text x="386.30" y="753.50" font-size="8.200" stroke="#000" stroke-width="0.18">4</text>
<rect x="356.80" y="761.20" width="9.00" height="8.80" fill="#005c0c" stroke="#000" stroke-width="1.0" />
<text x="368.30" y="766.50" font-size="7.800" stroke="#000" stroke-width="0.18">13</text>
<text x="377.20" y="769.70" font-size="11.600" stroke="#000" stroke-width="0.18">C</text>
<text x="386.30" y="773.70" font-size="8.200" stroke="#000" stroke-width="0.18">1</text>
<rect x="406.30" y="741.00" width="9.00" height="8.80" fill="#1c0a8c" stroke="#000" stroke-width="1.0" />
<text x="417.80" y="746.30" font-size="7.800" stroke="#000" stroke-width="0.18">13</text>
<text x="426.70" y="749.50" font-size="11.600" stroke="#000" stroke-width="0.18">C</text>
<text x="435.80" y="753.50" font-size="8.200" stroke="#000" stroke-width="0.18">3</text>
<rect x="406.30" y="761.20" width="9.00" height="8.80" fill="#8888ff" stroke="#000" stroke-width="1.0" />
<text x="417.80" y="766.50" font-size="7.800" stroke="#000" stroke-width="0.18">13</text>
<text x="426.70" y="769.70" font-size="11.600" stroke="#000" stroke-width="0.18">C</text>
<text x="435.80" y="773.70" font-size="8.200" stroke="#000" stroke-width="0.18">0</text>
<circle cx="270.60" cy="580.8" r="4.3" fill="#c9001c"/>
<circle cx="278.10" cy="580.8" r="4.3" fill="#c9001c"/>
<circle cx="285.60" cy="580.8" r="4.3" fill="#c9001c"/>
<circle cx="293.10" cy="580.8" r="4.3" fill="#c9001c"/>
<circle cx="270.60" cy="621.7" r="4.3" fill="#c9001c"/>
<circle cx="278.10" cy="621.7" r="4.3" fill="#c9001c"/>
<circle cx="285.60" cy="621.7" r="4.3" fill="#c9001c"/>
<circle cx="293.10" cy="621.7" r="4.3" fill="#c9001c"/>
<circle cx="334.60" cy="621.4" r="4.3" fill="#c9001c"/>
<circle cx="342.10" cy="621.4" r="4.3" fill="#c9001c"/>
<circle cx="349.60" cy="621.4" r="4.3" fill="#c9001c"/>
<circle cx="357.10" cy="621.4" r="4.3" fill="#c9001c"/>
<circle cx="356.30" cy="594.0" r="3.4" fill="#fff" stroke="#c9001c" stroke-width="1.2"/>
<circle cx="364.20" cy="594.0" r="3.4" fill="#fff" stroke="#c9001c" stroke-width="1.2"/>
<circle cx="396.90" cy="634.3" r="3.4" fill="#fff" stroke="#c9001c" stroke-width="1.2"/>
<circle cx="404.45" cy="634.3" r="3.4" fill="#fff" stroke="#c9001c" stroke-width="1.2"/>
<circle cx="412.00" cy="634.3" r="3.4" fill="#fff" stroke="#c9001c" stroke-width="1.2"/>
<circle cx="419.55" cy="634.3" r="3.4" fill="#fff" stroke="#c9001c" stroke-width="1.2"/>
<circle cx="427.10" cy="634.3" r="3.4" fill="#fff" stroke="#c9001c" stroke-width="1.2"/>
<circle cx="411.80" cy="626.6" r="3.4" fill="#fff" stroke="#c9001c" stroke-width="1.2"/>
<circle cx="404.30" cy="670.9" r="4.3" fill="#c9001c"/>
<circle cx="411.85" cy="670.9" r="4.3" fill="#c9001c"/>
<circle cx="419.40" cy="670.9" r="4.3" fill="#c9001c"/>
<circle cx="426.95" cy="670.9" r="4.3" fill="#c9001c"/>
<circle cx="434.50" cy="670.9" r="4.3" fill="#c9001c"/>
<circle cx="473.10" cy="670.9" r="4.3" fill="#c9001c"/>
<circle cx="480.60" cy="670.9" r="4.3" fill="#c9001c"/>
<circle cx="488.10" cy="670.9" r="4.3" fill="#c9001c"/>
<circle cx="495.60" cy="670.9" r="4.3" fill="#c9001c"/>
<circle cx="503.10" cy="670.9" r="4.3" fill="#c9001c"/>
<circle cx="473.10" cy="714.6" r="4.3" fill="#c9001c"/>
<circle cx="480.60" cy="714.6" r="4.3" fill="#c9001c"/>
<circle cx="488.10" cy="714.6" r="4.3" fill="#c9001c"/>
<circle cx="495.60" cy="714.6" r="4.3" fill="#c9001c"/>
<circle cx="503.10" cy="714.6" r="4.3" fill="#c9001c"/>
<circle cx="296.40" cy="655.1" r="4.3" fill="#c9001c"/>
<circle cx="303.90" cy="655.1" r="4.3" fill="#c9001c"/>
<circle cx="311.40" cy="655.1" r="4.3" fill="#c9001c"/>
<circle cx="318.90" cy="655.1" r="4.3" fill="#c9001c"/>
<circle cx="311.30" cy="692.3" r="4.3" fill="#c9001c"/>
<circle cx="318.80" cy="692.3" r="4.3" fill="#c9001c"/>
<circle cx="326.30" cy="692.3" r="4.3" fill="#c9001c"/>
<circle cx="333.80" cy="692.3" r="4.3" fill="#c9001c"/>
<circle cx="370.60" cy="702.8" r="4.3" fill="#c9001c"/>
<circle cx="378.10" cy="702.8" r="4.3" fill="#c9001c"/>
<circle cx="385.60" cy="702.8" r="4.3" fill="#c9001c"/>
<circle cx="393.10" cy="702.8" r="4.3" fill="#c9001c"/>
<text x="259.50" y="592.55" font-size="8.034" textLength="42.44" lengthAdjust="spacingAndGlyphs" stroke="#000" stroke-width="0.14">Asparagine</text>
<text x="262.80" y="634.65" font-size="8.818" textLength="35.74" lengthAdjust="spacingAndGlyphs" stroke="#000" stroke-width="0.14">Aspartate</text>
<text x="317.50" y="633.75" font-size="9.532" textLength="49.84" lengthAdjust="spacingAndGlyphs" stroke="#000" stroke-width="0.14">Oxaloacetate</text>
<text x="338.50" y="607.25" font-size="9.260" textLength="42.76" lengthAdjust="spacingAndGlyphs" stroke="#000" stroke-width="0.14">Acetyl-CoA</text>
<text x="401.98" y="646.65" font-size="8.715" textLength="26.59" lengthAdjust="spacingAndGlyphs" stroke="#000" stroke-width="0.14">Citrate</text>
<text x="404.82" y="684.35" font-size="9.529" textLength="20.84" lengthAdjust="spacingAndGlyphs" stroke="#000" stroke-width="0.14">α-KG</text>
<text x="468.90" y="686.25" font-size="9.532" textLength="39.14" lengthAdjust="spacingAndGlyphs" stroke="#000" stroke-width="0.14">Glutamate</text>
<text x="468.90" y="729.85" font-size="8.579" textLength="39.15" lengthAdjust="spacingAndGlyphs" stroke="#000" stroke-width="0.14">Glutamine</text>
<text x="292.54" y="669.05" font-size="8.715" textLength="25.20" lengthAdjust="spacingAndGlyphs" stroke="#000" stroke-width="0.14">Malate</text>
<text x="303.35" y="707.65" font-size="9.102" textLength="35.48" lengthAdjust="spacingAndGlyphs" stroke="#000" stroke-width="0.14">Fumarate</text>
<text x="364.43" y="715.75" font-size="8.851" textLength="37.41" lengthAdjust="spacingAndGlyphs" stroke="#000" stroke-width="0.14">Succinate</text>
<text x="335.53" y="664.55" font-size="11.711" textLength="51.07" lengthAdjust="spacingAndGlyphs" stroke="#000" stroke-width="0.14">Krebs cycle</text>
<line x1="281.30" y1="615.40" x2="281.30" y2="600.94" stroke="#000" stroke-width="1.15"/>
<polygon points="281.30,596.60 284.20,602.80 281.30,601.25 278.40,602.80" fill="#000"/>
<line x1="305.94" y1="621.50" x2="320.86" y2="621.50" stroke="#000" stroke-width="1.15"/>
<polygon points="325.20,621.50 319.00,624.40 320.55,621.50 319.00,618.60" fill="#000"/>
<polygon points="301.60,621.50 307.80,618.60 306.25,621.50 307.80,624.40" fill="#000"/>
<line x1="319.82" y1="638.55" x2="315.58" y2="645.85" stroke="#000" stroke-width="1.15"/>
<polygon points="313.40,649.60 314.01,642.78 315.74,645.58 319.02,645.70" fill="#000"/>
<polygon points="322.00,634.80 321.39,641.62 319.66,638.82 316.38,638.70" fill="#000"/>
<line x1="316.32" y1="674.44" x2="320.78" y2="682.96" stroke="#000" stroke-width="1.15"/>
<polygon points="322.80,686.80 317.35,682.66 320.64,682.68 322.49,679.96" fill="#000"/>
<polygon points="314.30,670.60 319.75,674.74 316.46,674.72 314.61,677.44" fill="#000"/>
<line x1="446.74" y1="671.20" x2="462.16" y2="671.20" stroke="#000" stroke-width="1.15"/>
<polygon points="466.50,671.20 460.30,674.10 461.85,671.20 460.30,668.30" fill="#000"/>
<polygon points="442.40,671.20 448.60,668.30 447.05,671.20 448.60,674.10" fill="#000"/>
<line x1="488.30" y1="710.00" x2="488.30" y2="695.24" stroke="#000" stroke-width="1.15"/>
<polygon points="488.30,690.90 491.20,697.10 488.30,695.55 485.40,697.10" fill="#000"/>
<path d="M363.6,617.8 Q380,618.3 390.6,624.6" stroke="#000" stroke-width="1.15" fill="none" />
<polygon points="395.60,627.60 388.80,626.80 391.65,625.15 391.86,621.87" fill="#000"/>
<path d="M374.7,608.6 Q375.4,615.5 380.6,618.0" stroke="#000" stroke-width="1.15" fill="none" />
<polygon points="384.60,620.80 377.86,619.59 380.80,618.12 381.21,614.86" fill="#000"/>
<path d="M412.3,647.7 Q417,653 416.6,660.5" stroke="#000" stroke-width="1.15" fill="none" />
<polygon points="416.30,666.00 413.73,659.65 416.55,661.36 419.53,659.96" fill="#000"/>
<path d="M411.8,685.5 Q408,693.5 401.5,697.6" stroke="#000" stroke-width="1.15" fill="none" />
<polygon points="397.20,700.30 400.89,694.53 401.13,697.81 403.99,699.43" fill="#000"/>
<path d="M363.6,706.8 Q352,700.3 340.5,699.0" stroke="#000" stroke-width="1.15" fill="none" />
<polygon points="334.80,698.20 341.36,696.25 339.40,698.89 340.50,701.98" fill="#000"/>
</svg>
</body></html>
